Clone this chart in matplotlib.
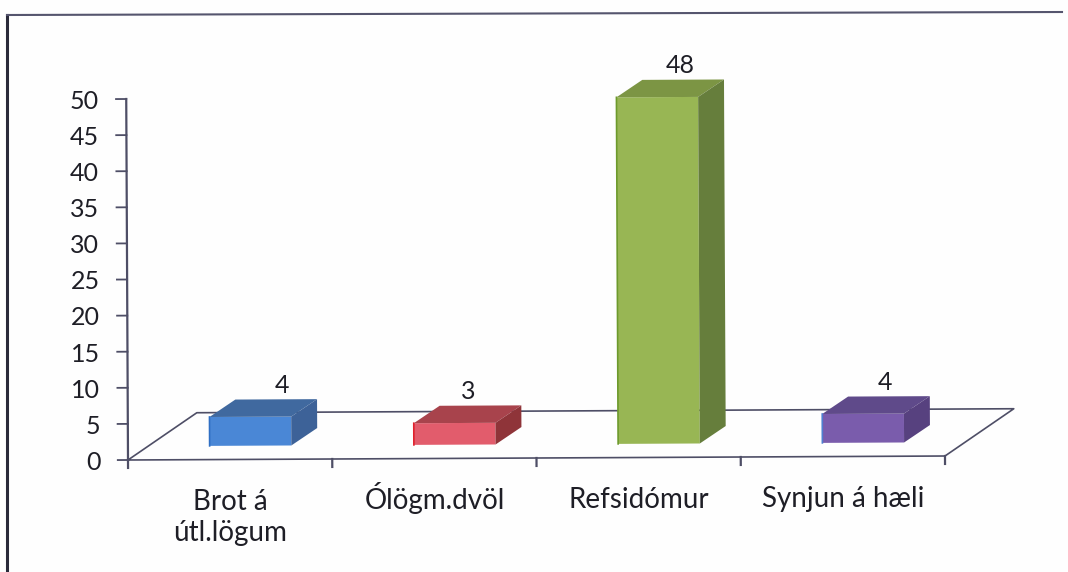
import matplotlib
matplotlib.use('Agg')
import matplotlib.pyplot as plt
from matplotlib.lines import Line2D
from matplotlib.transforms import Affine2D

# Data
categories = ['Brot á\nútl.lögum', 'Ólögm.dvöl', 'Refsidómur', 'Synjun á hæli']
values = [4, 3, 48, 4]
y_ticks = list(range(0, 55, 5))

front_colors = ['#4a87d6', '#e25c6c', '#98b654', '#7a5cac']
top_colors = ['#40699f', '#a8434c', '#7c9544', '#5f4a8a']
side_colors = ['#3d6298', '#8f3439', '#667e3c', '#57417f']
edge_colors = ['#2f6fc4', '#e0202c', '#6d9a2c', '#4f7fd0']

# Label offsets inside each category slot, they were moved by hand in the original
label_offsets = [0.755, 0.665, 0.715, 0.71]

axis_color = '#4e4e66'
text_color = '#1e1e26'

plt.rcParams['font.family'] = ['Lato', 'DejaVu Sans']

fig = plt.figure(figsize=(10.68, 5.72), dpi=100, facecolor='#fefefe')
ax = fig.add_axes([128 / 1068, 112 / 572, 817 / 1068, 361 / 572])
ax.set_xlim(0, 4)
ax.set_ylim(0, 50)
ax.axis('off')

# the scan is slightly rotated
tilt = ax.transData + Affine2D().rotate_deg_around(128, 112, 0.28)

# 3D look
base = 1.9
bar_w = 0.4
depth_x = 0.127
depth_y = 2.4
floor_x = 0.338
floor_y = 6.5

# Floor
ax.plot([0, floor_x, 4 + floor_x, 4, 0], [0, floor_y, floor_y, 0, 0], color=axis_color,
        lw=1.2, transform=tilt, clip_on=False, zorder=1)

# Axis lines and ticks
ax.plot([0, 0], [0, 50], color=axis_color, lw=1.6, transform=tilt, clip_on=False, zorder=2)
for t in y_ticks:
    ax.plot([-0.05, 0], [t, t], color=axis_color, lw=1.3, transform=tilt, clip_on=False, zorder=2)
    ax.text(-0.135, t - 0.3, str(t), ha='right', va='center', fontsize=18, color=text_color,
            transform=tilt, clip_on=False)
for i in range(len(categories) + 1):
    ax.plot([i, i], [0, -1.1], color=axis_color, lw=1.6, transform=tilt, clip_on=False, zorder=2)

# Bars
for i, v in enumerate(values):
    x0 = i + 0.6 - bar_w / 2
    x1 = x0 + bar_w
    y0 = base
    y1 = base + v
    ax.bar(x0, v, width=bar_w, bottom=base, align='edge', color=front_colors[i], linewidth=0,
           transform=tilt, clip_on=False, zorder=3)
    ax.plot([x0, x0], [y0, y1], color=edge_colors[i], lw=1.2, transform=tilt, clip_on=False, zorder=4)
    ax.fill([x0, x1, x1 + depth_x, x0 + depth_x], [y1, y1, y1 + depth_y, y1 + depth_y],
            color=top_colors[i], lw=0, transform=tilt, clip_on=False, zorder=3)
    ax.fill([x1, x1 + depth_x, x1 + depth_x, x1], [y0, y0 + depth_y, y1 + depth_y, y1],
            color=side_colors[i], lw=0, transform=tilt, clip_on=False, zorder=3)
    ax.text(i + label_offsets[i], y1 + depth_y + 1.95, str(v), ha='center', va='center', fontsize=18,
            color=text_color, transform=tilt, clip_on=False)
    # one text per line so the baselines line up across the categories
    for k, line in enumerate(categories[i].split('\n')):
        ax.text(i + 0.5, -7.0 - k * 4.3, line, ha='center', va='baseline', fontsize=20,
                color=text_color, transform=tilt, clip_on=False)

# Frame of the pasted chart
fig.add_artist(Line2D([7 / 1068, 7 / 1068], [0, 1 - 15 / 572], color='#2a2a3a', lw=2.2))
fig.add_artist(Line2D([7 / 1068, 1062 / 1068], [1 - 15 / 572, 1 - 12 / 572], color='#55556e', lw=1.5))

fig.savefig('out.png', dpi=100, facecolor=fig.get_facecolor())
